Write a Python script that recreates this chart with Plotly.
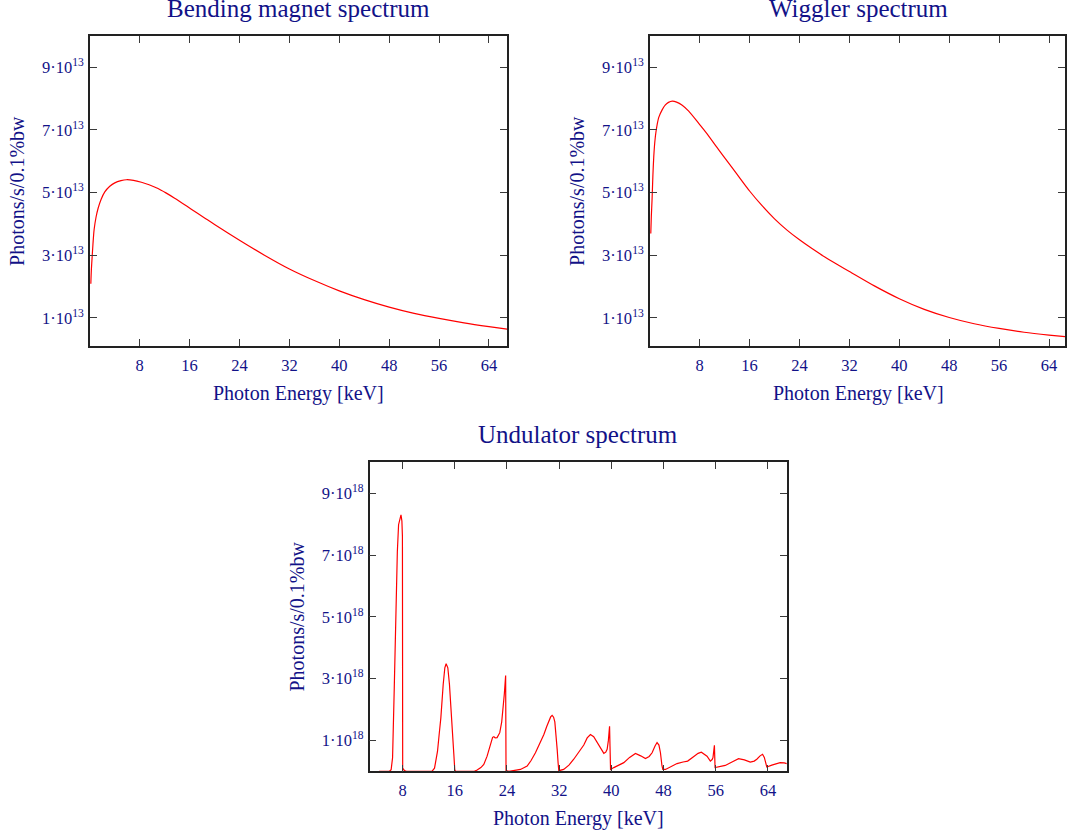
import plotly.graph_objects as go

# ---- spectra (energy in keV, flux in photons/s/0.1%bw) ----
bm_energy = [0.16, 0.25, 0.37, 0.5, 0.69, 1.0, 1.33, 1.8, 2.4, 3.2, 4.0, 5.0, 5.87, 7.0,
             8.27, 9.5, 10.93, 12.2, 13.6, 16.27, 18.4, 20.0, 24.0, 28.0, 32.0, 36.0, 40.0,
             44.0, 48.0, 52.0, 56.0, 60.0, 64.0, 66.9]
bm_flux = [2.09e13, 2.55e13, 2.94e13, 3.35e13, 3.82e13, 4.22e13, 4.50e13, 4.78e13, 5.02e13,
           5.20e13, 5.31e13, 5.38e13, 5.41e13, 5.39e13, 5.33e13, 5.25e13, 5.13e13, 4.99e13,
           4.82e13, 4.47e13, 4.19e13, 3.98e13, 3.48e13, 3.00e13, 2.56e13, 2.19e13, 1.86e13,
           1.58e13, 1.34e13, 1.14e13, 0.98e13, 0.84e13, 0.72e13, 0.64e13]

wig_energy = [0.16, 0.25, 0.37, 0.5, 0.64, 0.8, 1.0, 1.44, 2.0, 2.5, 3.0, 3.6, 4.3, 5.2,
              6.24, 8.0, 9.0, 11.0, 12.5, 14.0, 16.0, 18.0, 20.0, 22.0, 24.0, 26.0, 28.0,
              30.0, 32.0, 36.0, 40.0, 44.0, 48.0, 52.0, 56.0, 60.0, 64.0, 66.6]
wig_flux = [3.69e13, 4.25e13, 4.80e13, 5.55e13, 6.15e13, 6.60e13, 6.95e13, 7.40e13, 7.65e13,
            7.80e13, 7.88e13, 7.92e13, 7.89e13, 7.79e13, 7.60e13, 7.17e13, 6.92e13, 6.38e13,
            5.98e13, 5.58e13, 5.05e13, 4.58e13, 4.16e13, 3.80e13, 3.49e13, 3.21e13, 2.95e13,
            2.71e13, 2.48e13, 2.02e13, 1.61e13, 1.27e13, 1.01e13, 0.81e13, 0.66e13, 0.54e13,
            0.45e13, 0.40e13]

und_energy = [4.4, 6.0, 6.25, 6.47, 6.73, 6.88, 7.05, 7.2, 7.39, 7.6, 7.76, 7.9, 7.98, 8.02,
              8.3, 8.6, 12.5, 12.9, 13.1, 13.36, 13.61, 13.87, 14.23, 14.48, 14.68, 14.94,
              15.19, 15.45, 15.65, 15.86, 16.0, 16.1, 19.0, 19.43, 20.0, 20.45, 20.96, 21.46,
              21.8, 22.0, 22.2, 22.49, 22.9, 23.2, 23.4, 23.6, 23.8, 23.86, 24.3, 26.07, 27.1,
              27.7, 28.37, 29.0, 29.66, 30.1, 30.42, 30.7, 30.93, 31.15, 31.34, 31.55, 31.7,
              31.85, 31.95, 32.7, 33.5, 34.24, 35.0, 35.78, 36.3, 36.8, 37.3, 37.83, 38.4,
              38.85, 39.15, 39.36, 39.55, 39.73, 39.8, 39.88, 40.38, 41.2, 41.91, 42.8, 43.7,
              44.5, 45.23, 45.8, 46.25, 46.7, 47.01, 47.3, 47.53, 47.75, 47.89, 48.3, 49.2,
              50.07, 51.0, 51.7, 52.7, 53.3, 53.8, 54.3, 54.67, 55.18, 55.45, 55.58, 55.8,
              55.9, 57.47, 58.5, 59.5, 60.4, 61.3, 61.9, 62.3, 62.8, 63.18, 63.45, 63.6,
              63.83, 64.6, 65.87, 66.5, 66.9]
und_flux = [0.0, 0.0, 0.05e18, 0.44e18, 2.7e18, 4.3e18, 6.0e18, 7.1e18, 7.98e18, 8.2e18,
            8.3e18, 8.1e18, 7.6e18, 0.1e18, 0.02e18, 0.0, 0.0, 0.1e18, 0.33e18, 0.65e18,
            1.19e18, 1.73e18, 2.81e18, 3.35e18, 3.48e18, 3.35e18, 2.81e18, 2.06e18, 1.3e18,
            0.55e18, 0.06e18, 0.0, 0.0, 0.04e18, 0.12e18, 0.22e18, 0.49e18, 0.87e18, 1.1e18,
            1.12e18, 1.08e18, 1.09e18, 1.25e18, 1.6e18, 2.0e18, 2.5e18, 3.1e18, 0.02e18,
            0.0, 0.06e18, 0.17e18, 0.35e18, 0.6e18, 0.88e18, 1.19e18, 1.45e18, 1.62e18,
            1.76e18, 1.81e18, 1.75e18, 1.6e18, 1.2e18, 0.71e18, 0.25e18, 0.02e18, 0.06e18,
            0.2e18, 0.39e18, 0.62e18, 0.85e18, 1.08e18, 1.19e18, 1.12e18, 0.93e18, 0.7e18,
            0.58e18, 0.62e18, 0.71e18, 1.0e18, 1.46e18, 0.8e18, 0.06e18, 0.12e18, 0.2e18,
            0.28e18, 0.45e18, 0.58e18, 0.5e18, 0.41e18, 0.48e18, 0.6e18, 0.82e18, 0.93e18,
            0.85e18, 0.6e18, 0.2e18, 0.06e18, 0.06e18, 0.16e18, 0.25e18, 0.3e18, 0.33e18,
            0.49e18, 0.58e18, 0.62e18, 0.56e18, 0.49e18, 0.33e18, 0.38e18, 0.44e18, 0.84e18,
            0.12e18, 0.19e18, 0.3e18, 0.41e18, 0.37e18, 0.3e18, 0.33e18, 0.39e18, 0.5e18,
            0.55e18, 0.45e18, 0.33e18, 0.14e18, 0.2e18, 0.28e18, 0.27e18, 0.25e18]

energy_ticks = [8, 16, 24, 32, 40, 48, 56, 64]
flux_ticks_13 = [1e13, 3e13, 5e13, 7e13, 9e13]
flux_labels_13 = ["1·10<sup>13</sup>", "3·10<sup>13</sup>", "5·10<sup>13</sup>",
                  "7·10<sup>13</sup>", "9·10<sup>13</sup>"]
flux_ticks_18 = [1e18, 3e18, 5e18, 7e18, 9e18]
flux_labels_18 = ["1·10<sup>18</sup>", "3·10<sup>18</sup>", "5·10<sup>18</sup>",
                  "7·10<sup>18</sup>", "9·10<sup>18</sup>"]

panel_titles = ["Bending magnet spectrum", "Wiggler spectrum", "Undulator spectrum"]
x_title = "Photon Energy [keV]"
y_title = "Photons/s/0.1%bw"

# ---- page geometry ----
W, H = 1067, 837
FONT = "Liberation Serif"
TEXT = "#121288"
LINE = "#222222"


def fx(px):
    return px / W


def fy(py):
    return 1 - py / H


# plot boxes in pixels: (left, top, right, bottom)
boxes = [(90, 36, 508, 346), (651, 36, 1067, 346), (370.3, 462.3, 788.3, 771.3)]
x_ranges = [[0, 66.9], [0, 66.56], [2.95, 66.9]]
y_ranges = [[0.1e13, 10e13], [0.1e13, 10e13], [0, 1e19]]
y_ticks = [(flux_ticks_13, flux_labels_13), (flux_ticks_13, flux_labels_13),
           (flux_ticks_18, flux_labels_18)]
series = [(bm_energy, bm_flux, "spline"), (wig_energy, wig_flux, "spline"),
          (und_energy, und_flux, "linear")]

fig = go.Figure()
layout = dict(
    width=W, height=H,
    margin=dict(l=0, r=0, t=0, b=0),
    paper_bgcolor="white", plot_bgcolor="white",
    showlegend=False,
    font=dict(family=FONT, color=TEXT),
)

annotations = []
for i, ((l, t, r, b), xr, yr, (yt, ylab), (ex, fl, shape)) in enumerate(
        zip(boxes, x_ranges, y_ranges, y_ticks, series)):
    n = "" if i == 0 else str(i + 1)
    fig.add_trace(go.Scatter(
        x=ex, y=fl, mode="lines", xaxis="x" + n, yaxis="y" + n,
        line=dict(color="#ff0000", width=1.2, shape=shape, smoothing=0.8),
    ))
    common = dict(
        showgrid=False, zeroline=False, showline=True, linecolor=LINE, linewidth=1.6,
        mirror="ticks", ticks="inside", ticklen=7, tickwidth=1.3, tickcolor="#3a3a3a",
        tickfont=dict(family=FONT, size=16.5, color=TEXT),
    )
    layout["xaxis" + n] = dict(
        common, domain=[fx(l), fx(r)], range=xr, anchor="y" + n,
        tickvals=energy_ticks, ticklabelstandoff=3,
    )
    layout["yaxis" + n] = dict(
        common, domain=[fy(b), fy(t)], range=yr, anchor="x" + n,
        tickvals=yt, ticktext=ylab, ticklabelstandoff=1,
    )
    cx = (l + r) / 2 if i != 1 else (651 + 1069) / 2
    cy = (t + b) / 2
    # panel title
    annotations.append(dict(
        text=panel_titles[i], xref="paper", yref="paper", x=fx(cx), y=fy(t - 27.5),
        xanchor="center", yanchor="middle", showarrow=False,
        font=dict(family=FONT, size=25, color=TEXT),
    ))
    # x axis title
    annotations.append(dict(
        text=x_title, xref="paper", yref="paper", x=fx(cx), y=fy(b + 47),
        xanchor="center", yanchor="middle", showarrow=False,
        font=dict(family=FONT, size=20, color=TEXT),
    ))
    # y axis title
    annotations.append(dict(
        text=y_title, xref="paper", yref="paper", x=fx(l - 73), y=fy(cy),
        xanchor="center", yanchor="middle", showarrow=False, textangle=-90,
        font=dict(family=FONT, size=20, color=TEXT),
    ))

layout["annotations"] = annotations
fig.update_layout(**layout)
fig.write_html("out.html")
